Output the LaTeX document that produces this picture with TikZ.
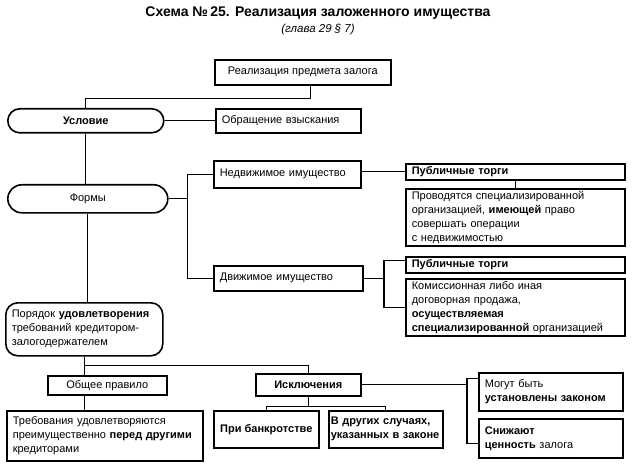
\documentclass[tikz,border=0pt]{standalone}
\usepackage{fontspec}
\setmainfont{Liberation Sans}
\usetikzlibrary{positioning,calc}

\def\boxfont{\fontsize{11}{14}\selectfont}

\begin{document}
\begin{tikzpicture}[x=1pt,y=-1pt]

\tikzset{
     element/.style={
     	rectangle,
  	 	line width=1.6pt,
  	 	draw=black,
  	 	inner sep=0pt,
  	 	anchor=north west,
  	 	font=\boxfont
     },
     wh/.style 2 args={minimum width=#1pt,minimum height=#2pt}
}

\tikzset{
	roundelement/.style={
		element,
		rounded corners=12pt
	},
	lefttext/.style={
		align=left,
		inner xsep=6pt,
		inner ysep=2pt,
		text width=#1pt
	},
	link/.style={
		line width=1.2pt
	}
}

\useasboundingbox (0,0) rectangle (636,470);

% title
\node[font=\fontsize{14}{16}\selectfont\bfseries] (title) at (318,13) {Схема №\,25. Реализация заложенного имущества};
\node[font=\fontsize{11.5}{13}\selectfont\itshape] (chapter) at (318,30) {(глава 29 § 7)};

% subject
\node[element, wh={176}{25}] (subject) at (214,59) {Реализация предмета залога};

% condition
\node[roundelement, wh={156}{24}, font=\boxfont\bfseries] (condition) at (7,108) {Условие};
\node[element, lefttext=133, minimum height=24pt] (recovery) at (215,108) {Обращение взыскания};

% forms
\node[roundelement, rounded corners=14pt, wh={160}{28}] (forms) at (7,184) {Формы};
\node[element, lefttext=135, minimum height=27pt] (realty) at (213,160) {Недвижимое имущество};
\node[element, lefttext=137, minimum height=25pt] (movables) at (213,265) {Движимое имущество};

\node[element, lefttext=207, minimum height=16pt, font=\boxfont\bfseries] (auction1) at (405,163) {Публичные торги};
\node[element, lefttext=207, minimum height=57pt] (realtyinfo) at (405,188)
	{Проводятся специализированной\\ организацией, \textbf{имеющей} право\\ совершать операции\\ с недвижимостью};
\node[element, lefttext=207, minimum height=16pt, font=\boxfont\bfseries] (auction2) at (405,256) {Публичные торги};
\node[element, lefttext=207, minimum height=57pt] (movinfo) at (405,278)
	{Комиссионная либо иная\\ договорная продажа,\\ \textbf{осуществляемая}\\ \textbf{специализированной} организацией};

% order
\node[roundelement, lefttext=145, minimum height=53pt] (order) at (5,302)
	{Порядок \textbf{удовлетворения}\\ требований кредитором-\\ залогодержателем};
\node[element, wh={119}{19}] (general) at (47,375) {Общее правило};
\node[element, lefttext=184, minimum height=50pt] (claims) at (6,410)
	{Требования удовлетворяются\\ преимущественно \textbf{перед другими}\\ кредиторами};

% exceptions
\node[element, wh={105}{22}, font=\boxfont\bfseries] (exceptions) at (255,373) {Исключения};
\node[element, wh={105}{37}, font=\boxfont\bfseries] (bankruptcy) at (213,410) {При банкротстве};
\node[element, lefttext=110, inner xsep=2pt, minimum height=37pt, font=\boxfont\bfseries] (othercases) at (328,410)
	{В других случаях,\\ указанных в законе};
\node[element, lefttext=132, minimum height=38pt] (canbe) at (478,372)
	{Могут быть\\ \textbf{установлены законом}};
\node[element, lefttext=132, minimum height=39pt] (reduce) at (478,418)
	{\textbf{Снижают}\\ \textbf{ценность} залога};

% links
\draw[link] ([xshift=8pt]subject.south) -- ++(0,13) -| (condition.north);
\draw[link] (condition.east) -- (recovery.west);
\draw[link] (condition.south) -- (condition.south |- forms.north);
\draw[link] (forms.east) -- ++(19,0) coordinate (formsfork);
\draw[link] (realty.west) -| (formsfork) |- (movables.west);
\draw[link] (realty.east |- auction1.west) -- (auction1.west);
\draw[link] (auction1.south) -- (realtyinfo.north);
\draw[link] ([yshift=4pt]auction2.west) -- ++(-21,0) coordinate (movfork) |- (movinfo.west);
\draw[link] (movables.east) -- (movables.east -| movfork);
\draw[link] (forms.south) -- (forms.south |- order.north);
\draw[link] (order.south) -- ++(0,9) coordinate (orderfork) -| (exceptions.north);
\draw[link] (orderfork) -- (orderfork |- general.north);
\draw[link] (orderfork |- general.south) -- (orderfork |- claims.north);
\draw[link] (exceptions.south) -- ++(0,10) coordinate (exfork);
\draw[link] (bankruptcy.north) |- (exfork) -| (othercases.north);
\draw[link] ([yshift=13pt]canbe.west) -- ++(-11,0) coordinate (exbracket) |- ([yshift=-5pt]reduce.west);
\draw[link] (exceptions.east) -- (exceptions.east -| exbracket);

\end{tikzpicture}
\end{document}
